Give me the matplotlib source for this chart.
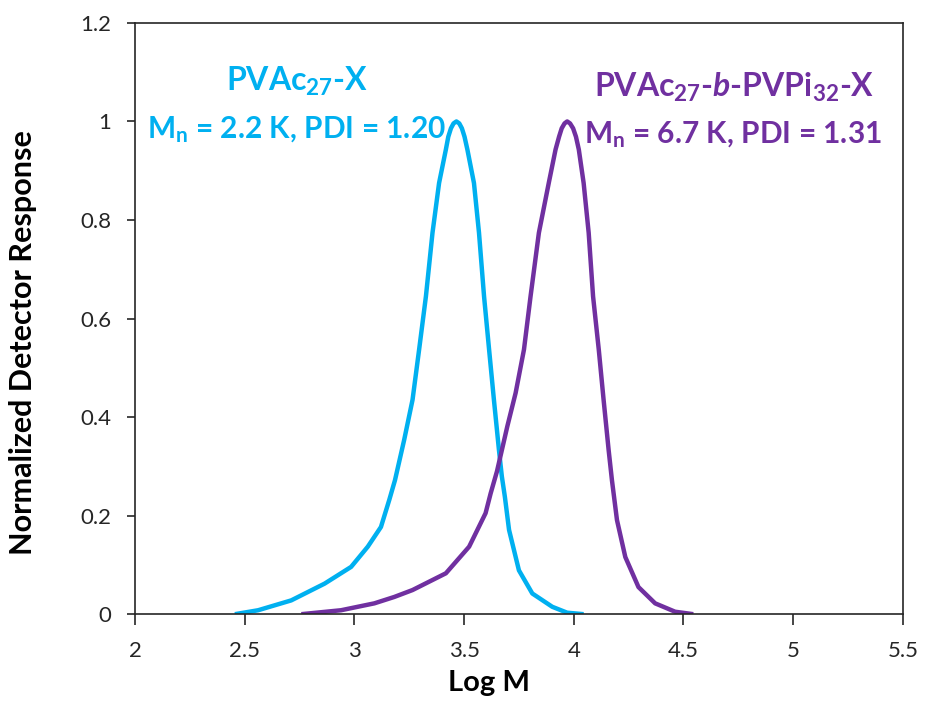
import matplotlib
matplotlib.use("Agg")
import matplotlib.pyplot as plt

# GPC traces (Log M vs normalized response)
logm_pvac = [2.455, 2.561, 2.712, 2.864, 2.985, 3.061, 3.121, 3.159, 3.185, 3.227, 3.265,
             3.295, 3.326, 3.356, 3.386, 3.417, 3.428, 3.44, 3.452, 3.465, 3.478, 3.49,
             3.502, 3.515, 3.545, 3.568, 3.591, 3.614, 3.636, 3.659, 3.672, 3.686, 3.705,
             3.75, 3.811, 3.902, 3.97, 4.045]
resp_pvac = [0.0, 0.008, 0.028, 0.062, 0.096, 0.137, 0.177, 0.232, 0.272, 0.354, 0.435,
             0.537, 0.645, 0.774, 0.875, 0.943, 0.969, 0.986, 0.996, 1.0, 0.996, 0.986,
             0.969, 0.943, 0.875, 0.774, 0.645, 0.537, 0.435, 0.333, 0.28, 0.238, 0.171,
             0.089, 0.042, 0.015, 0.003, 0.0]

logm_block = [2.758, 2.939, 3.091, 3.182, 3.265, 3.417, 3.523, 3.598, 3.621, 3.65, 3.697,
              3.735, 3.773, 3.803, 3.841, 3.886, 3.917, 3.933, 3.945, 3.958, 3.97, 3.983,
              3.997, 4.01, 4.023, 4.045, 4.068, 4.088, 4.114, 4.136, 4.159, 4.174, 4.197,
              4.235, 4.295, 4.371, 4.462, 4.545]
resp_block = [0.0, 0.008, 0.022, 0.035, 0.049, 0.083, 0.137, 0.205, 0.245, 0.29, 0.381,
              0.449, 0.537, 0.645, 0.774, 0.875, 0.943, 0.969, 0.986, 0.996, 1.0, 0.996,
              0.986, 0.969, 0.943, 0.875, 0.774, 0.645, 0.537, 0.435, 0.333, 0.272, 0.191,
              0.116, 0.055, 0.022, 0.005, 0.0]

xticks = [2, 2.5, 3, 3.5, 4, 4.5, 5, 5.5]
yticks = [0, 0.2, 0.4, 0.6, 0.8, 1.0, 1.2]
xtick_labels = ["2", "2.5", "3", "3.5", "4", "4.5", "5", "5.5"]
ytick_labels = ["0", "0.2", "0.4", "0.6", "0.8", "1", "1.2"]

cyan = "#00B0F0"
purple = "#7030A0"

plt.rcParams['font.family'] = ['Lato', 'DejaVu Sans']
plt.rcParams['mathtext.fontset'] = 'custom'
plt.rcParams['mathtext.rm'] = 'Lato:bold'
plt.rcParams['mathtext.bf'] = 'Lato:bold'
plt.rcParams['mathtext.it'] = 'Lato:bold:italic'

fig = plt.figure(figsize=(9.25, 7.15), dpi=100)
ax = fig.add_axes([0.146, 0.141, 0.830, 0.827])

ax.plot(logm_pvac, resp_pvac, color=cyan, lw=3.2, solid_capstyle='butt', solid_joinstyle='round')
ax.plot(logm_block, resp_block, color=purple, lw=3.2, solid_capstyle='butt', solid_joinstyle='round')

ax.set_xlim(2, 5.5)
ax.set_ylim(0, 1.2)
ax.set_xticks(xticks)
ax.set_xticklabels(xtick_labels)
ax.set_yticks(yticks)
ax.set_yticklabels(ytick_labels)
ax.tick_params(direction='out', width=1.2, labelsize=16, colors='#262626')
ax.tick_params(axis='x', length=8, pad=11)
ax.tick_params(axis='y', length=6, pad=11)
for s in ax.spines.values():
    s.set_linewidth(1.2)
    s.set_color('#262626')

ax.set_xlabel('Log M', fontsize=21, fontweight='bold')
ax.set_ylabel('Normalized Detector Response', fontsize=22, fontweight='bold')
ax.xaxis.set_label_coords(0.461, -0.095)
ax.yaxis.set_label_coords(-0.128, 0.46)

ax.text(2.74, 1.081, r'PVAc$_{\mathbf{27}}$-X', color=cyan, fontsize=23,
        fontweight='bold', ha='center', va='center')
ax.text(2.055, 0.984, r'M$_{\mathbf{n}}$ = 2.2 K, PDI = 1.20', color=cyan, fontsize=21.5,
        fontweight='bold', ha='left', va='center')
ax.text(4.73, 1.069, r'PVAc$_{\mathbf{27}}$-$\mathit{b}$-PVPi$_{\mathbf{32}}$-X', color=purple,
        fontsize=23, fontweight='bold', ha='center', va='center')
ax.text(4.045, 0.974, r'M$_{\mathbf{n}}$ = 6.7 K, PDI = 1.31', color=purple, fontsize=21.5,
        fontweight='bold', ha='left', va='center')

fig.savefig('out.png', dpi=100)
